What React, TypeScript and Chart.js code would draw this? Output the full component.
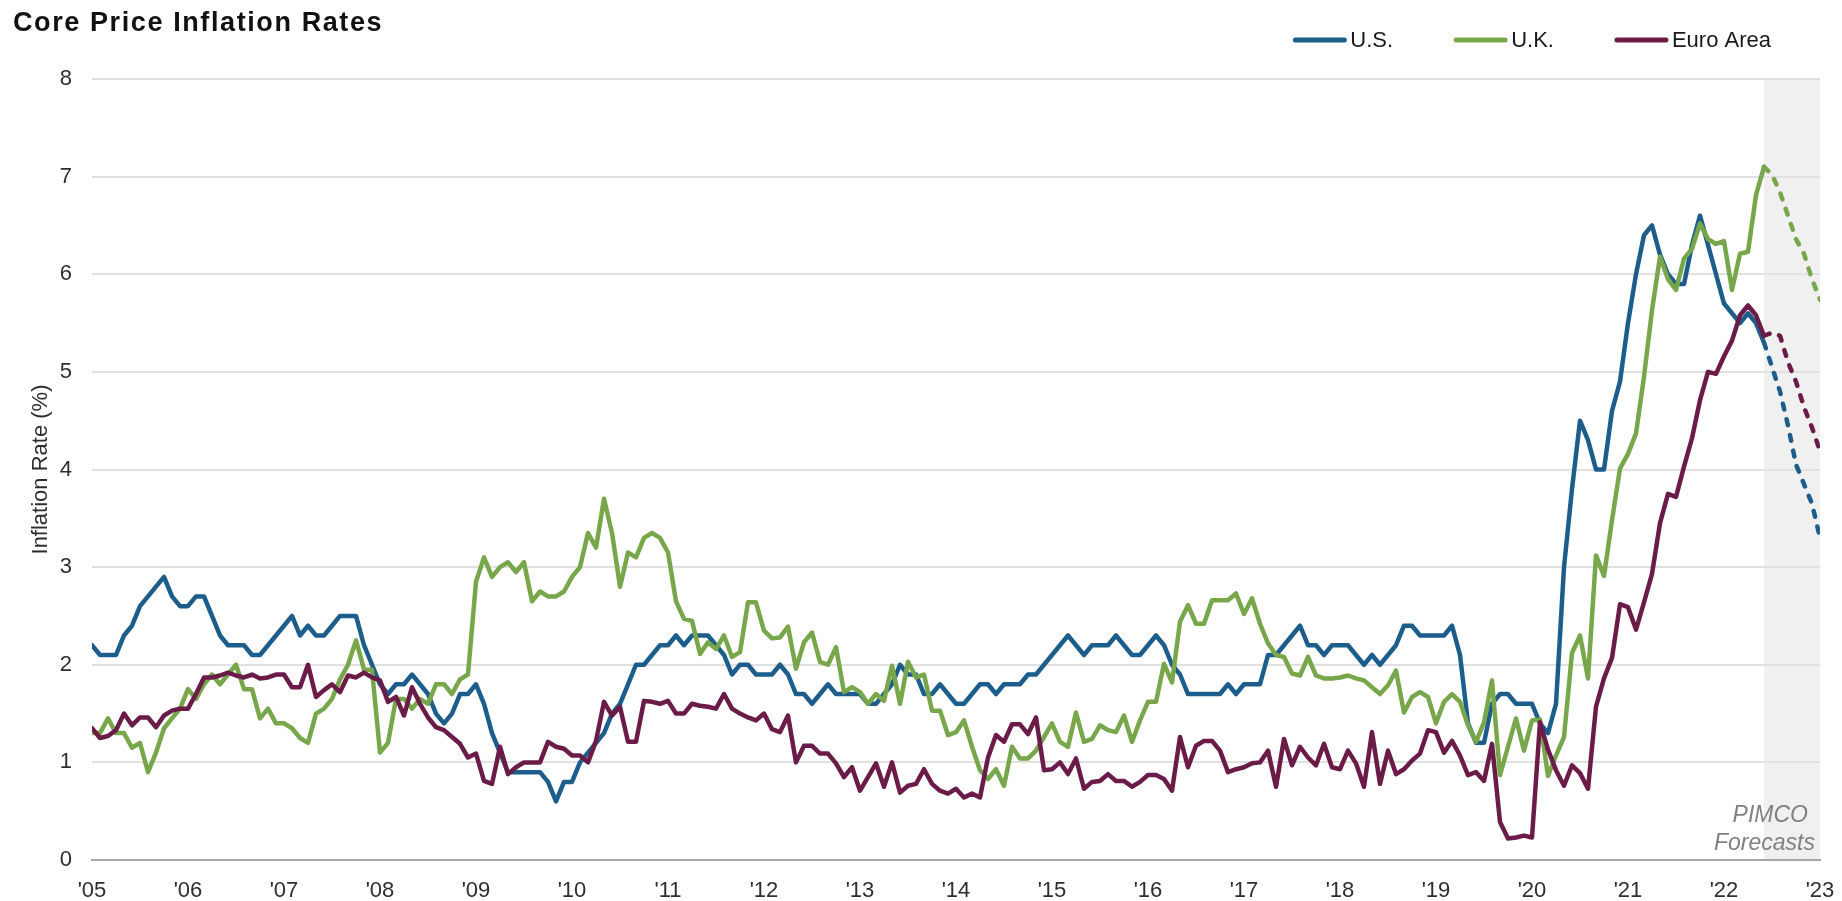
import React, { useEffect, useRef } from "react";
import { Chart, registerables } from "chart.js";

Chart.register(...registerables);

const FONT = "'Liberation Sans', Arial, Helvetica, sans-serif";
const TITLE = "Core Price Inflation Rates";
const Y_TITLE = "Inflation Rate (%)";
const SERIES_NAMES = ["U.S.", "U.K.", "Euro Area"];
const SERIES_COLORS = ["#1d5d8c", "#77a64b", "#6b1b47"];
const TICK_LABELS = ["'05", "'06", "'07", "'08", "'09", "'10", "'11", "'12", "'13", "'14", "'15", "'16", "'17", "'18", "'19", "'20", "'21", "'22", "'23"];
const FORECAST_NOTE = ["PIMCO", "Forecasts"];
// monthly points; index of the last actual month (forecasts follow)
const FORECAST_START = 209;
const LAST_INDEX = 216;

const US = [
  2.2, 2.1, 2.1, 2.1, 2.3, 2.4, 2.6, 2.7, 2.8, 2.9, 2.7, 2.6, 2.6,
  2.7, 2.7, 2.5, 2.3, 2.2, 2.2, 2.2, 2.1, 2.1, 2.2, 2.3, 2.4,
  2.5, 2.3, 2.4, 2.3, 2.3, 2.4, 2.5, 2.5, 2.5, 2.2, 2.0, 1.8,
  1.7, 1.8, 1.8, 1.9, 1.8, 1.7, 1.5, 1.4, 1.5, 1.7, 1.7, 1.8,
  1.6, 1.3, 1.1, 0.9, 0.9, 0.9, 0.9, 0.9, 0.8, 0.6, 0.8, 0.8,
  1.0, 1.1, 1.2, 1.3, 1.5, 1.6, 1.8, 2.0, 2.0, 2.1, 2.2, 2.2,
  2.3, 2.2, 2.3, 2.3, 2.3, 2.2, 2.1, 1.9, 2.0, 2.0, 1.9, 1.9,
  1.9, 2.0, 1.9, 1.7, 1.7, 1.6, 1.7, 1.8, 1.7, 1.7, 1.7, 1.7,
  1.6, 1.6, 1.7, 1.8, 2.0, 1.9, 1.9, 1.7, 1.7, 1.8, 1.7, 1.6,
  1.6, 1.7, 1.8, 1.8, 1.7, 1.8, 1.8, 1.8, 1.9, 1.9, 2.0, 2.1,
  2.2, 2.3, 2.2, 2.1, 2.2, 2.2, 2.2, 2.3, 2.2, 2.1, 2.1, 2.2,
  2.3, 2.2, 2.0, 1.9, 1.7, 1.7, 1.7, 1.7, 1.7, 1.8, 1.7, 1.8,
  1.8, 1.8, 2.1, 2.1, 2.2, 2.3, 2.4, 2.2, 2.2, 2.1, 2.2, 2.2,
  2.2, 2.1, 2.0, 2.1, 2.0, 2.1, 2.2, 2.4, 2.4, 2.3, 2.3, 2.3,
  2.3, 2.4, 2.1, 1.4, 1.2, 1.2, 1.6, 1.7, 1.7, 1.6, 1.6, 1.6,
  1.4, 1.3, 1.6, 3.0, 3.8, 4.5, 4.3, 4.0, 4.0, 4.6, 4.9, 5.5,
  6.0, 6.4, 6.5, 6.2, 6.0, 5.9, 5.9, 6.3, 6.6, 6.3, 6.0, 5.7,
  5.6, 5.5, 5.6, 5.5, 5.3,
  5.05, 4.8, 4.45, 4.05, 3.85, 3.65, 3.3,
];

const UK = [
  1.3, 1.3, 1.45, 1.3, 1.3, 1.15, 1.2, 0.9, 1.1, 1.35, 1.45, 1.55, 1.75,
  1.65, 1.8, 1.9, 1.8, 1.9, 2.0, 1.75, 1.75, 1.45, 1.55, 1.4, 1.4,
  1.35, 1.25, 1.2, 1.5, 1.55, 1.65, 1.85, 2.0, 2.25, 1.95, 1.95, 1.1,
  1.2, 1.65, 1.65, 1.55, 1.65, 1.6, 1.8, 1.8, 1.7, 1.85, 1.9, 2.85,
  3.1, 2.9, 3.0, 3.05, 2.95, 3.05, 2.65, 2.75, 2.7, 2.7, 2.75, 2.9,
  3.0, 3.35, 3.2, 3.7, 3.35, 2.8, 3.15, 3.1, 3.3, 3.35, 3.3, 3.15,
  2.65, 2.47, 2.45, 2.11, 2.23, 2.16, 2.3, 2.08, 2.13, 2.64, 2.64, 2.35,
  2.27, 2.28, 2.39, 1.96, 2.23, 2.33, 2.03, 2.0, 2.18, 1.72, 1.77, 1.72,
  1.6, 1.7, 1.63, 1.99, 1.6, 2.03, 1.87, 1.9, 1.53, 1.53, 1.28, 1.31,
  1.43, 1.16, 0.92, 0.83, 0.93, 0.76, 1.16, 1.04, 1.04, 1.12, 1.26, 1.4,
  1.21, 1.16, 1.51, 1.21, 1.24, 1.38, 1.33, 1.31, 1.48, 1.21, 1.43, 1.62,
  1.62, 2.01, 1.82, 2.44, 2.61, 2.42, 2.42, 2.66, 2.66, 2.66, 2.73, 2.52,
  2.68, 2.42, 2.22, 2.1, 2.08, 1.91, 1.89, 2.08, 1.89, 1.86, 1.86, 1.87,
  1.89, 1.86, 1.84, 1.77, 1.7, 1.79, 1.94, 1.51, 1.67, 1.72, 1.67, 1.4,
  1.62, 1.7, 1.62, 1.38, 1.21, 1.41, 1.84, 0.87, 1.16, 1.45, 1.12, 1.43,
  1.44, 0.86, 1.07, 1.26, 2.12, 2.3, 1.86, 3.12, 2.91, 3.48, 4.01, 4.16,
  4.37, 4.95, 5.63, 6.18, 5.95, 5.84, 6.16, 6.26, 6.52, 6.36, 6.31, 6.34,
  5.84, 6.21, 6.23, 6.81, 7.1,
  7.02, 6.84, 6.6, 6.36, 6.21, 5.95, 5.74,
];

const EURO = [
  1.35, 1.25, 1.27, 1.33, 1.5, 1.38, 1.46, 1.46, 1.36, 1.48, 1.53, 1.55, 1.55,
  1.7, 1.87, 1.87, 1.89, 1.92, 1.89, 1.87, 1.9, 1.86, 1.87, 1.9, 1.9,
  1.77, 1.77, 2.0, 1.67, 1.74, 1.8, 1.72, 1.89, 1.87, 1.92, 1.87, 1.84,
  1.62, 1.67, 1.48, 1.77, 1.6, 1.46, 1.36, 1.33, 1.26, 1.19, 1.05, 1.09,
  0.81, 0.78, 1.16, 0.88, 0.95, 1.0, 1.0, 1.0, 1.21, 1.16, 1.14, 1.07,
  1.07, 1.0, 1.22, 1.62, 1.48, 1.57, 1.21, 1.21, 1.63, 1.62, 1.6, 1.63,
  1.5, 1.5, 1.6, 1.58, 1.57, 1.55, 1.7, 1.55, 1.5, 1.46, 1.43, 1.5,
  1.34, 1.31, 1.48, 1.0, 1.17, 1.17, 1.09, 1.09, 0.99, 0.85, 0.95, 0.71,
  0.85, 0.99, 0.75, 1.0, 0.69, 0.76, 0.78, 0.93, 0.78, 0.71, 0.68, 0.73,
  0.64, 0.68, 0.64, 1.05, 1.28, 1.21, 1.39, 1.39, 1.29, 1.46, 0.92, 0.93,
  1.0, 0.88, 1.04, 0.73, 0.8, 0.81, 0.88, 0.81, 0.81, 0.75, 0.8, 0.87,
  0.87, 0.83, 0.71, 1.26, 0.95, 1.17, 1.22, 1.22, 1.12, 0.9, 0.93, 0.95,
  0.99, 1.0, 1.12, 0.75, 1.24, 0.97, 1.16, 1.05, 0.97, 1.19, 0.95, 0.93,
  1.12, 0.99, 0.75, 1.31, 0.78, 1.12, 0.88, 0.93, 1.02, 1.09, 1.33, 1.31,
  1.1, 1.22, 1.07, 0.87, 0.9, 0.81, 1.19, 0.39, 0.22, 0.23, 0.25, 0.23,
  1.41, 1.13, 0.92, 0.76, 0.97, 0.89, 0.73, 1.57, 1.86, 2.07, 2.62, 2.59,
  2.36, 2.64, 2.93, 3.45, 3.75, 3.72, 4.03, 4.32, 4.71, 5.0, 4.98, 5.16,
  5.32, 5.58, 5.68, 5.58, 5.37,
  5.4, 5.37, 5.1, 4.9, 4.64, 4.43, 4.19,
];

const SERIES = [US, UK, EURO];
const TEXT_COLOR = "#2e2e2e";

const decorations = {
  id: "decorations",
  beforeDraw(chart: any) {
    const { ctx, chartArea, scales } = chart;
    const x0 = scales.x.getPixelForValue(FORECAST_START);
    ctx.save();
    ctx.fillStyle = "#f0f0f0";
    ctx.fillRect(x0, chartArea.top, chartArea.right - x0, chartArea.bottom - chartArea.top);
    ctx.restore();
  },
  afterDraw(chart: any) {
    const { ctx, chartArea } = chart;
    ctx.save();
    // title
    ctx.fillStyle = "#111111";
    ctx.font = `bold 27px ${FONT}`;
    ctx.textAlign = "left";
    ctx.textBaseline = "alphabetic";
    try { (ctx as any).letterSpacing = "1.6px"; } catch (e) {}
    ctx.fillText(TITLE, 13, 31);
    try { (ctx as any).letterSpacing = "0px"; } catch (e) {}

    // legend (laid out right to left)
    ctx.font = `22px ${FONT}`;
    ctx.textBaseline = "middle";
    const lineLen = 53;
    const gapText = 4;
    const gapItem = 61;
    let right = 1771;
    const items: { x: number; w: number }[] = [];
    for (let i = SERIES_NAMES.length - 1; i >= 0; i--) {
      const w = ctx.measureText(SERIES_NAMES[i]).width;
      const x = right - w - gapText - lineLen;
      items[i] = { x, w };
      right = x - gapItem;
    }
    const ly = 40;
    items.forEach((it, i) => {
      ctx.strokeStyle = SERIES_COLORS[i];
      ctx.lineWidth = 5;
      ctx.lineCap = "round";
      ctx.beginPath();
      ctx.moveTo(it.x + 2, ly);
      ctx.lineTo(it.x + lineLen - 2, ly);
      ctx.stroke();
      ctx.fillStyle = "#1a1a1a";
      ctx.fillText(SERIES_NAMES[i], it.x + lineLen + gapText, ly + 1);
    });

    // forecast note
    ctx.font = `italic 23px ${FONT}`;
    ctx.fillStyle = "#808080";
    ctx.textAlign = "right";
    ctx.textBaseline = "alphabetic";
    ctx.fillText(FORECAST_NOTE[0], chartArea.right - 12, 822);
    ctx.fillText(FORECAST_NOTE[1], chartArea.right - 5, 850);
    ctx.restore();
  },
};

export default function App() {
  const canvasRef = useRef<HTMLCanvasElement | null>(null);

  useEffect(() => {
    const canvas = canvasRef.current;
    if (!canvas) return;
    Chart.defaults.font.family = FONT;
    const orders = [3, 2, 1]; // Euro Area on top, U.S. at the bottom
    const datasets = SERIES.map((values, s) => ({
      label: SERIES_NAMES[s],
      data: values.map((v, i) => ({ x: i, y: v })),
      borderColor: SERIES_COLORS[s],
      backgroundColor: SERIES_COLORS[s],
      borderWidth: 4.5,
      pointRadius: 0,
      pointHoverRadius: 0,
      tension: 0,
      borderJoinStyle: "round" as const,
      borderCapStyle: "round" as const,
      order: orders[s],
      segment: {
        borderDash: (ctx: any) => (ctx.p0DataIndex >= FORECAST_START ? [6, 10] : undefined),
      },
    }));

    const chart = new Chart(canvas, {
      type: "line",
      data: { datasets },
      plugins: [decorations],
      options: {
        responsive: false,
        animation: false,
        events: [],
        layout: { padding: { top: 79, right: 22, bottom: 0, left: 0 } },
        plugins: {
          legend: { display: false },
          title: { display: false },
          tooltip: { enabled: false },
        },
        scales: {
          x: {
            type: "linear",
            min: 0,
            max: LAST_INDEX,
            grid: { display: false, drawTicks: false, tickLength: 0 },
            border: { display: true, color: "#a6a6a6", width: 2 },
            ticks: {
              stepSize: 12,
              autoSkip: false,
              maxRotation: 0,
              padding: 18,
              color: TEXT_COLOR,
              font: { size: 22 },
              callback: (v: any) => {
                const k = Math.round(Number(v) / 12);
                return Number(v) % 12 === 0 ? TICK_LABELS[k] ?? "" : "";
              },
            },
            afterFit: (s: any) => {
              s.height = 41;
              s.paddingLeft = 0;
              s.paddingRight = 0;
            },
          },
          y: {
            min: 0,
            max: 8,
            grid: {
              color: (c: any) => (c.tick && c.tick.value === 0 ? "rgba(0,0,0,0)" : "#e1e1e1"),
              lineWidth: 2,
              drawTicks: false,
              tickLength: 0,
            },
            border: { display: false },
            ticks: { stepSize: 1, padding: 20, color: TEXT_COLOR, font: { size: 22 } },
            title: {
              display: true,
              text: Y_TITLE,
              color: TEXT_COLOR,
              font: { size: 22 },
              padding: { top: 28, bottom: 0 },
            },
            afterFit: (s: any) => {
              s.width = 92;
            },
          },
        },
      },
    });
    return () => chart.destroy();
  }, []);

  return (
    <div style={{ position: "fixed", left: 0, top: 0, width: 1842, height: 901, background: "#ffffff" }}>
      <canvas ref={canvasRef} width={1842} height={901} style={{ display: "block" }} />
    </div>
  );
}
